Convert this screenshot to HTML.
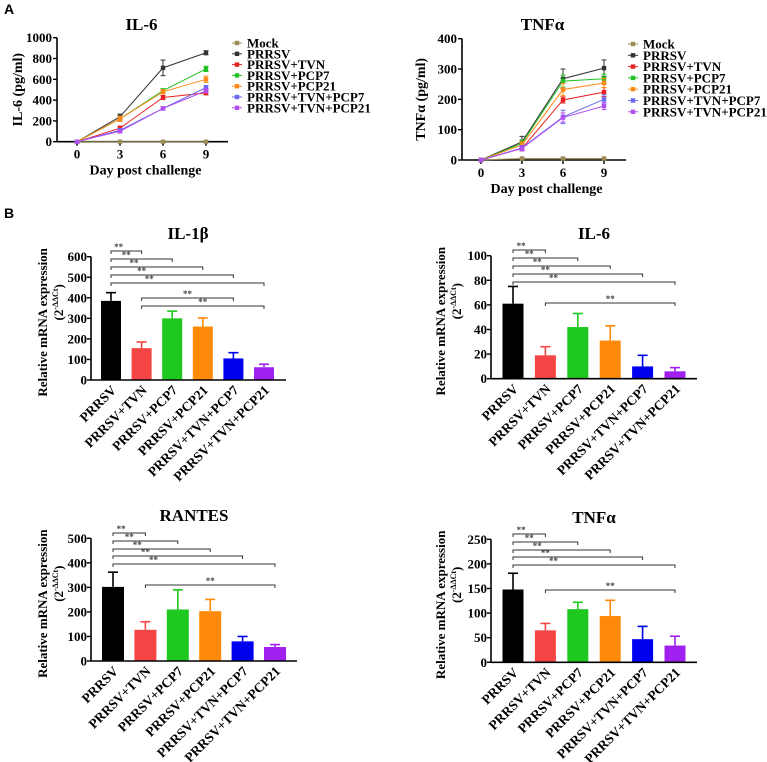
<!DOCTYPE html>
<html><head><meta charset="utf-8">
<style>
html,body{margin:0;padding:0;background:#fff;}
svg{display:block;font-family:"Liberation Serif",serif;font-weight:bold;}
</style></head>
<body>
<svg id="fig" width="767" height="762" viewBox="0 0 767 762" xmlns="http://www.w3.org/2000/svg">
<text x="4" y="14" font-family="Liberation Sans, sans-serif" font-size="14" font-weight="bold">A</text>
<text x="4" y="218" font-family="Liberation Sans, sans-serif" font-size="14" font-weight="bold">B</text>
</svg>
<script>
// ---- Line chart data ----
const days = [0, 3, 6, 9];
const seriesNames = ["Mock","PRRSV","PRRSV+TVN","PRRSV+PCP7","PRRSV+PCP21","PRRSV+TVN+PCP7","PRRSV+TVN+PCP21"];
const seriesColors = ["#9b8c55","#333333","#e82020","#22c022","#ff8a1a","#6a6af0","#b050f0"];
const il6Mock = [0,0,0,0];
const il6Prrsv = [0,240,710,855];
const il6Tvn = [0,130,425,470];
const il6Pcp7 = [0,220,490,700];
const il6Pcp21 = [0,220,480,600];
const il6TvnPcp7 = [0,110,320,520];
const il6TvnPcp21 = [0,100,320,490];
const il6Err = [[0,0,0,0],[0,25,75,20],[0,20,20,20],[0,25,20,25],[0,25,20,30],[0,15,15,20],[0,15,15,20]];
const tnfMock = [0,5,5,5];
const tnfPrrsv = [0,60,268,303];
const tnfTvn = [0,38,198,224];
const tnfPcp7 = [0,55,260,268];
const tnfPcp21 = [0,50,232,254];
const tnfTvnPcp7 = [0,40,142,200];
const tnfTvnPcp21 = [0,38,140,178];
const tnfErr = [[0,2,2,2],[0,18,32,27],[0,8,10,15],[0,10,20,15],[0,10,20,15],[0,8,22,15],[0,8,15,12]];
const il6Ticks = [0,200,400,600,800,1000];
const tnfTicks = [0,100,200,300,400];

// ---- Bar chart data ----
const groups = ["PRRSV","PRRSV+TVN","PRRSV+PCP7","PRRSV+PCP21","PRRSV+TVN+PCP7","PRRSV+TVN+PCP21"];
const barColors = ["#000000","#f54545","#1ec81e","#ff8a0a","#0000f0","#a020f0"];
const il1bMean = [385,155,300,260,105,62];
const il1bErr = [40,30,35,42,28,15];
const il6bMean = [61,19,42,31,10,6];
const il6bErr = [14,7,11,12,9,3];
const rantesMean = [302,127,210,203,80,57];
const rantesErr = [60,33,80,48,20,10];
const tnfbMean = [148,65,108,94,47,34];
const tnfbErr = [33,14,14,32,26,19];
const il1bTicks = [0,100,200,300,400,500,600];
const il6bTicks = [0,20,40,60,80,100];
const rantesTicks = [0,100,200,300,400,500];
const tnfbTicks = [0,50,100,150,200,250];
const brackets = [[0,1],[0,2],[0,3],[0,4],[0,5],[1,4],[1,5]];
const bracketsB = [[0,1],[0,2],[0,3],[0,4],[0,5],[1,5]];

const NS = "http://www.w3.org/2000/svg";
const svg = document.getElementById("fig");
function mk(tag, attrs, parent){
  const e = document.createElementNS(NS, tag);
  for (const k in attrs) e.setAttribute(k, attrs[k]);
  (parent||svg).appendChild(e);
  return e;
}

function lineChart(o){
  const g = mk("g", {});
  
  
  const X = v => o.x0 + (v - 0) / 9 * (o.x9 - o.x0);
  const Y = v => o.y0 - v / o.ymax * (o.y0 - o.ytop);
  const t = mk("text", {x:(o.x0+o.x9)/2, y:o.titleY, "text-anchor":"middle", "font-size":17}, g);
  t.textContent = o.title;
  
  
  mk("line", {x1:o.ax, y1:o.y0, x2:o.axEnd, y2:o.y0, stroke:"#000", "stroke-width":1.6}, g);
  mk("line", {x1:o.ax, y1:o.y0, x2:o.ax, y2:o.ytop, stroke:"#000", "stroke-width":1.6}, g);
  o.ticks.forEach(v => {
    mk("line", {x1:o.ax-4, y1:Y(v), x2:o.ax, y2:Y(v), stroke:"#000", "stroke-width":1.4}, g);
    const tl = mk("text", {x:o.ax-5, y:Y(v)+4.5, "text-anchor":"end", "font-size":13}, g);
    tl.textContent = v;
    
    
  });
  days.forEach(d => {
    mk("line", {x1:X(d), y1:o.y0, x2:X(d), y2:o.y0+4, stroke:"#000", "stroke-width":1.4}, g);
    const tl = mk("text", {x:X(d), y:o.y0+17, "text-anchor":"middle", "font-size":13}, g);
    tl.textContent = d;
    
    
  });
  const xt = mk("text", {x:(o.x0+o.x9)/2+4, y:o.y0+33, "text-anchor":"middle", "font-size":14}, g);
  xt.textContent = "Day post challenge";
  
  
  const yt = mk("text", {x:0, y:0, "text-anchor":"middle", "font-size":14, transform:`translate(${o.ytX},${(o.y0+o.ytop)/2}) rotate(-90)`}, g);
  yt.textContent = o.ytitle;
  
  
  o.series.forEach((vals, i) => {
    const c = seriesColors[i];
    const sg = mk("g", {}, g);
    
    
    mk("polyline", {points: vals.map((v,j)=>X(days[j])+","+Y(v)).join(" "), fill:"none", stroke:c, "stroke-width":1}, sg);
    vals.forEach((v,j) => {
      const e = o.err[i][j];
      if (e > 0) {
        mk("line", {x1:X(days[j]), y1:Y(v+e), x2:X(days[j]), y2:Y(v-e), stroke:c, "stroke-width":1}, sg);
        mk("line", {x1:X(days[j])-2.5, y1:Y(v+e), x2:X(days[j])+2.5, y2:Y(v+e), stroke:c, "stroke-width":1}, sg);
        mk("line", {x1:X(days[j])-2.5, y1:Y(v-e), x2:X(days[j])+2.5, y2:Y(v-e), stroke:c, "stroke-width":1}, sg);
      }
      const p = mk("rect", {x:X(days[j])-2.2, y:Y(v)-2.2, width:4.4, height:4.4, fill:c}, sg);
      
      
    });
  });
  const lg = mk("g", {}, g);
  
  
  seriesNames.forEach((n,i) => {
    const y = o.legY + i*o.legDy;
    const eg = mk("g", {}, lg);
    
    
    mk("line", {x1:o.legX-5, y1:y, x2:o.legX+5, y2:y, stroke:seriesColors[i], "stroke-width":1}, eg);
    mk("rect", {x:o.legX-2.2, y:y-2.2, width:4.4, height:4.4, fill:seriesColors[i]}, eg);
    const lt = mk("text", {x:o.legX+10, y:y+4.5, "font-size":13}, eg);
    lt.textContent = n;
  });
}

lineChart({name:"il6-line-chart", title:"IL-6", titleY:30, ax:57, axEnd:228, x0:77, x9:206, y0:141.7, ytop:37.7, ymax:1000,
  ticks:il6Ticks, series:[il6Mock,il6Prrsv,il6Tvn,il6Pcp7,il6Pcp21,il6TvnPcp7,il6TvnPcp21], err:il6Err,
  ytitle:"IL-6 (pg/ml)", ytX:22, legX:237, legY:43, legDy:10.8});
lineChart({name:"tnfa-line-chart", title:"TNFα", titleY:30, ax:462, axEnd:626, x0:481, x9:604, y0:160, ytop:38.7, ymax:400,
  ticks:tnfTicks, series:[tnfMock,tnfPrrsv,tnfTvn,tnfPcp7,tnfPcp21,tnfTvnPcp7,tnfTvnPcp21], err:tnfErr,
  ytitle:"TNFα (pg/ml)", ytX:425, legX:633, legY:44, legDy:11.3});

function barChart(o){
  const g = mk("g", {});
  
  
  const Y = v => o.y0 - v / o.ymax * (o.y0 - o.ytop);
  const X = i => o.c0 + i * o.dc;
  const t = mk("text", {x:o.titleX, y:o.titleY, "text-anchor":"middle", "font-size":17}, g);
  t.textContent = o.title;
  
  
  o.mean.forEach((v,i) => {
    const cx = X(i), c = barColors[i];
    const b = mk("rect", {x:cx-o.bw/2, y:Y(v), width:o.bw, height:o.y0-Y(v), fill:c}, g);
    
    
    const top = Y(v + o.err[i]);
    mk("line", {x1:cx, y1:Y(v), x2:cx, y2:top, stroke:c, "stroke-width":1.6}, g);
    mk("line", {x1:cx-5, y1:top, x2:cx+5, y2:top, stroke:c, "stroke-width":1.6}, g);
    const lbl = mk("text", {x:0, y:0, "text-anchor":"end", "font-size":13.5, transform:`translate(${cx+6},${o.y0+11}) rotate(-45)`}, g);
    lbl.textContent = groups[i];
    
    
  });
  mk("line", {x1:o.ax, y1:o.y0, x2:o.axEnd, y2:o.y0, stroke:"#000", "stroke-width":1.6}, g);
  mk("line", {x1:o.ax, y1:o.y0, x2:o.ax, y2:o.ytop, stroke:"#000", "stroke-width":1.6}, g);
  o.ticks.forEach(v => {
    mk("line", {x1:o.ax-4, y1:Y(v), x2:o.ax, y2:Y(v), stroke:"#000", "stroke-width":1.4}, g);
    const tl = mk("text", {x:o.ax-4, y:Y(v)+4.5, "text-anchor":"end", "font-size":13}, g);
    tl.textContent = v;
    
    
  });
  const midY = (o.y0 + o.ytop)/2 + 4;
  const yt = mk("text", {x:0, y:0, "text-anchor":"middle", "font-size":13, transform:`translate(${o.ytX},${midY}) rotate(-90)`}, g);
  yt.textContent = "Relative  mRNA expression";
  
  
  const yt2 = mk("text", {x:0, y:0, "text-anchor":"middle", "font-size":13, transform:`translate(${o.ytX+16},${midY-20}) rotate(-90)`}, g);
  yt2.innerHTML = '(2<tspan font-size="8" dy="-5">-ΔΔCt</tspan><tspan dy="5">)</tspan>';
  
  
  o.br.forEach((p,k) => {
    const y = o.bys[k], a = X(p[0]), b = X(p[1]);
    const bg = mk("g", {}, g);
    
    
    mk("path", {d:`M${a},${y+3}V${y}H${b}V${y+3}`, fill:"none", stroke:"#333", "stroke-width":1}, bg);
    const s = mk("text", {x:(a+b)/2 - (k<5 ? (b-a)*0.25 : 0), y:y-1, "text-anchor":"middle", "font-size":9, fill:"#444"}, bg);
    s.textContent = "**";
  });
}

barChart({name:"il1b-bar-chart", title:"IL-1β", titleY:239, titleX:188, ax:91, axEnd:286, y0:380, ytop:256.7, ymax:600,
  c0:111, dc:30.6, bw:20, mean:il1bMean, err:il1bErr, ticks:il1bTicks, ytX:47,
  br:brackets, bys:[251,259,267,275,283,298,306]});
barChart({name:"il6-bar-chart", title:"IL-6", titleY:239, titleX:594, ax:491, axEnd:697, y0:378.7, ytop:255.7, ymax:100,
  c0:513, dc:32.4, bw:21, mean:il6bMean, err:il6bErr, ticks:il6bTicks, ytX:445,
  br:bracketsB, bys:[250,258,266,274,282,303]});
barChart({name:"rantes-bar-chart", title:"RANTES", titleY:521, titleX:194, ax:91, axEnd:297, y0:661, ytop:538.3, ymax:500,
  c0:113, dc:32.4, bw:22, mean:rantesMean, err:rantesErr, ticks:rantesTicks, ytX:47,
  br:bracketsB, bys:[533,541,549,556,564,585]});
barChart({name:"tnfa-bar-chart", title:"TNFα", titleY:523, titleX:594, ax:491, axEnd:697, y0:662.3, ytop:539.3, ymax:250,
  c0:513, dc:32.4, bw:21, mean:tnfbMean, err:tnfbErr, ticks:tnfbTicks, ytX:445,
  br:bracketsB, bys:[534,542,550,557,565,590]});
</script>
</body></html>
